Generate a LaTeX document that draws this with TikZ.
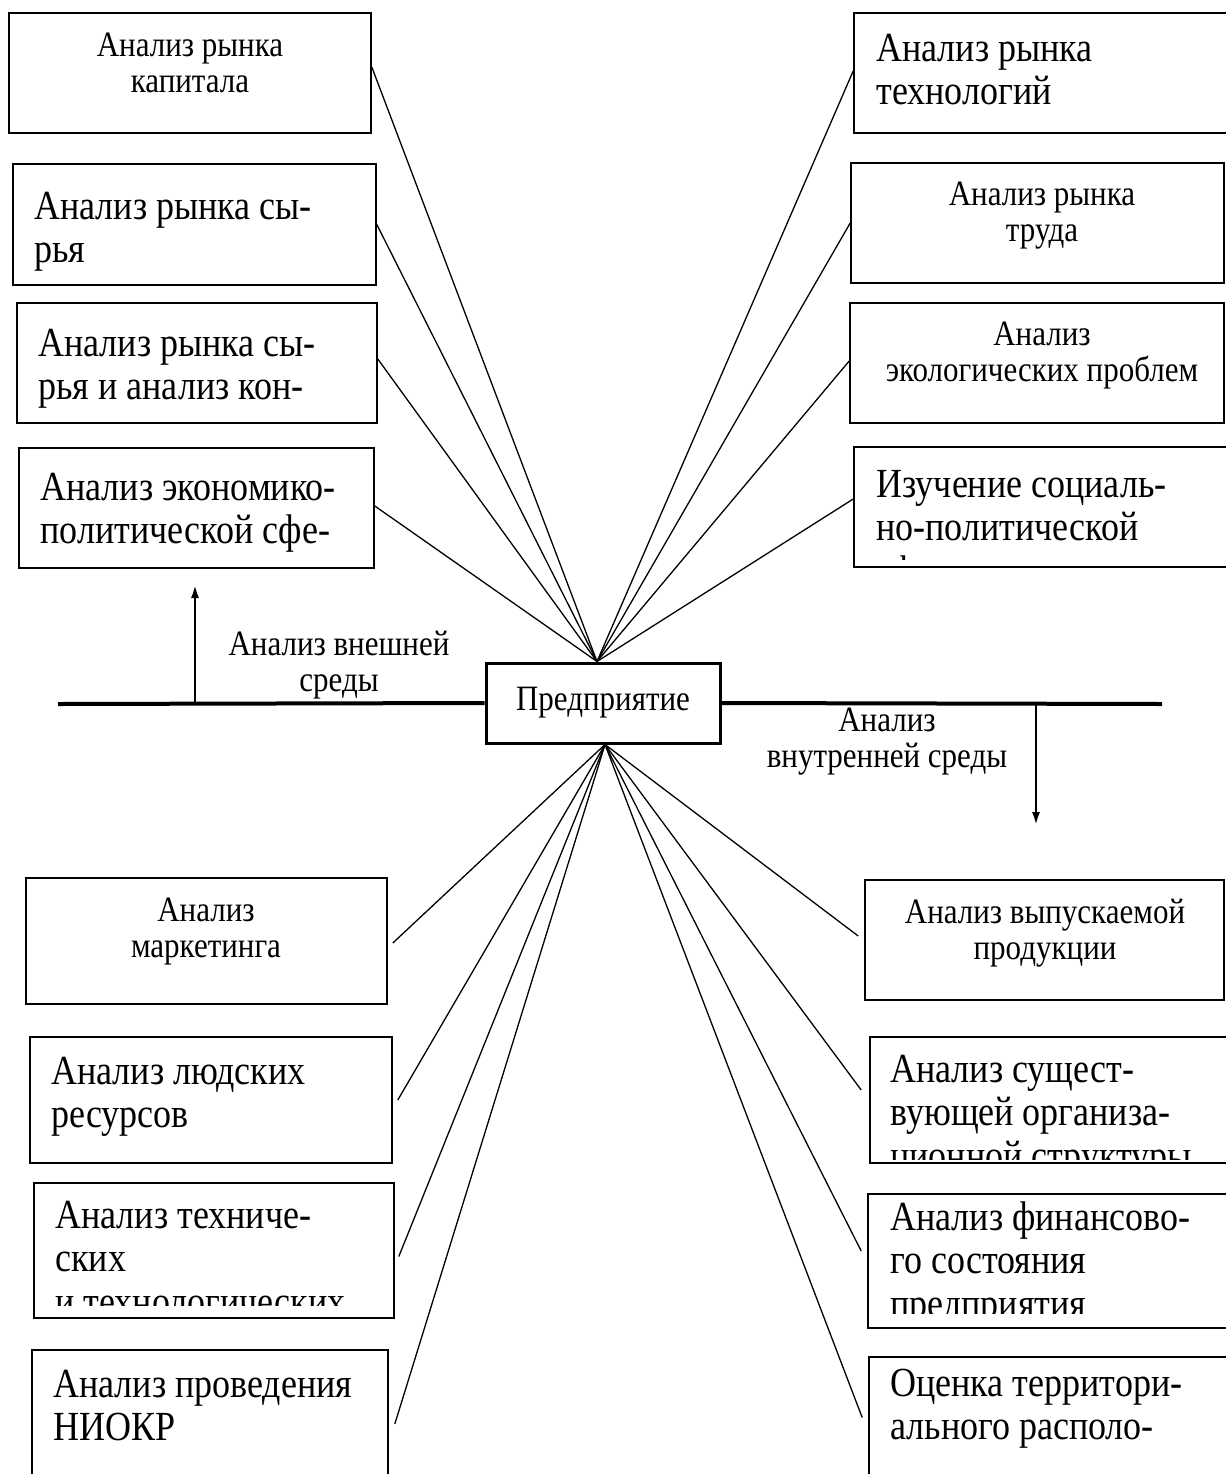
\documentclass[tikz,border=0pt]{standalone}
\usepackage{fontspec}
\setmainfont{Liberation Serif}
\usetikzlibrary{arrows.meta}
\newcommand\bigf{\fontsize{18}{19.1}\selectfont}
\newcommand\smf{\fontsize{15.5}{16}\selectfont}
\newcommand\vs{1.15}
\newcommand\mkbox[5]{\node[bx, minimum width={(#4-#2)*0.5pt}, minimum height={(#5-#3)*0.5pt}] (#1) at ({(#2+#4)/2},{(#3+#5)/2}) {};}
\newcommand\ltext[4]{\node[lt] (#1) at (#2,#3) {\scalebox{1}[\vs]{\begin{minipage}[t]{190pt}\bigf #4\end{minipage}}};}
\newcommand\ctext[4]{\node[ct] (#1) at (#2,#3) {\scalebox{1}[\vs]{\begin{minipage}[t]{190pt}\centering\smf #4\end{minipage}}};}
\tikzset{
 bx/.style={draw, line width=0.8pt, inner sep=0pt, rectangle},
 lt/.style={anchor=base west, inner sep=0pt},
 ct/.style={anchor=base, inner sep=0pt},
 fan/.style={line width=0.65pt},
 axisline/.style={line width=2pt},
 arr/.style={line width=1.4pt, -{Latex[length=7pt,width=4pt]}},
}
\begin{document}
\begin{tikzpicture}[x=0.5pt,y=-0.5pt]
\fill[white] (0,0) rectangle (1226,1474);
\clip (0,0) rectangle (1226,1474);
% boxes
\mkbox{b1}{9}{13}{371}{133}
\mkbox{b2}{13}{164}{376}{285}
\mkbox{b3}{17}{303}{377}{423}
\mkbox{b4}{19}{448}{374}{568}
\mkbox{b5}{854}{13}{1232}{133}
\mkbox{b6}{851}{163}{1224}{283}
\mkbox{b7}{850}{303}{1224}{423}
\mkbox{b8}{854}{447}{1232}{567}
\mkbox{bmark}{26}{878}{387}{1004}
\mkbox{bpeople}{30}{1037}{392}{1163}
\mkbox{btech}{34}{1183}{394}{1318}
\mkbox{bniokr}{32}{1350}{388}{1490}
\mkbox{bprod}{865}{880}{1224}{1000}
\mkbox{borg}{870}{1037}{1232}{1163}
\mkbox{bfin}{868}{1194}{1232}{1328}
\mkbox{bterr}{869}{1357}{1232}{1490}
% centre
\node[draw, line width=1.5pt, inner sep=0pt, minimum width=117pt, minimum height=40pt] (pred) at (603,703) {\scalebox{1}[\vs]{\smf Предприятие}};
% texts
\ctext{t1}{190}{56}{Анализ рынка\\капитала}
\ltext{t2}{34}{219}{Анализ рынка сы-\\рья}
\ltext{t3}{38}{356}{Анализ рынка сы-\\рья и анализ кон-}
\ltext{t4}{40}{500}{Анализ экономико-\\политической сфе-}
\ltext{t5}{876}{61}{Анализ рынка\\технологий}
\ctext{t6}{1042}{205}{Анализ рынка\\труда}
\ctext{t7}{1042}{345}{Анализ\\экологических проблем}
\begin{scope}
\clip (854,447) rectangle (1226,559);
\ltext{t8}{876}{497}{Изучение социаль-\\но-политической\\сферы}
\end{scope}
\ctext{tmark}{206}{921}{Анализ\\маркетинга}
\ltext{tpeople}{51}{1084}{Анализ людских\\ресурсов}
\begin{scope}
\clip (34,1183) rectangle (394,1305);
\ltext{ttech}{55}{1228}{Анализ техниче-\\ских\\и технологических}
\end{scope}
\ltext{tniokr}{53}{1397}{Анализ проведения\\НИОКР}
\ctext{tprod}{1045}{923}{Анализ выпускаемой\\продукции}
\begin{scope}
\clip (870,1037) rectangle (1232,1159);
\ltext{torg}{890}{1082}{Анализ сущест-\\вующей организа-\\ционной структуры}
\end{scope}
\begin{scope}
\clip (868,1194) rectangle (1232,1313);
\ltext{tfin}{890}{1230}{Анализ финансово-\\го состояния\\предприятия}
\end{scope}
\ltext{tterr}{890}{1396}{Оценка территори-\\ального располо-}
% axis labels
\ctext{lext}{339}{655}{Анализ внешней\\среды}
\ctext{lint}{887}{731}{Анализ\\внутренней среды}
% fan
\coordinate (ftop) at ([xshift=-3pt]pred.north);
\coordinate (fbot) at ([xshift=1pt]pred.south);
\draw[fan] (ftop) -- ([yshift=3pt]b1.east);
\draw[fan] (ftop) -- (b2.east);
\draw[fan] (ftop) -- ([yshift=2pt]b3.east);
\draw[fan] (ftop) -- ([yshift=1pt]b4.east);
\draw[fan] (ftop) -- ([yshift=1pt]b5.west);
\draw[fan] (ftop) -- (b6.west);
\draw[fan] (ftop) -- ([yshift=1pt]b7.west);
\draw[fan] (ftop) -- ([yshift=4pt]b8.west);
\draw[fan] (fbot) -- ([xshift=2.5pt,yshift=-1pt]bmark.east);
\draw[fan] (fbot) -- ([xshift=2.5pt]bpeople.east);
\draw[fan] (fbot) -- ([xshift=2pt,yshift=-3pt]btech.east);
\draw[fan] (fbot) -- ([xshift=3pt,yshift=-2pt]bniokr.east);
\draw[fan] (fbot) -- ([xshift=-3pt,yshift=2pt]bprod.west);
\draw[fan] (fbot) -- ([xshift=-4pt,yshift=5pt]borg.west);
\draw[fan] (fbot) -- ([xshift=-3pt,yshift=5pt]bfin.west);
\draw[fan] (fbot) -- ([xshift=-3pt,yshift=3pt]bterr.west);
% axis
\coordinate (hl) at (58,704);
\coordinate (hr) at (1162,704);
\draw[axisline] (hl) -- (pred.west);
\draw[axisline] (pred.east) -- (hr);
\coordinate (ua0) at (195,703);
\coordinate (ua1) at (195,584);
\draw[arr] (ua0) -- (ua1);
\coordinate (da0) at (1036,705);
\coordinate (da1) at (1036,826);
\draw[arr] (da0) -- (da1);
\end{tikzpicture}
\end{document}
